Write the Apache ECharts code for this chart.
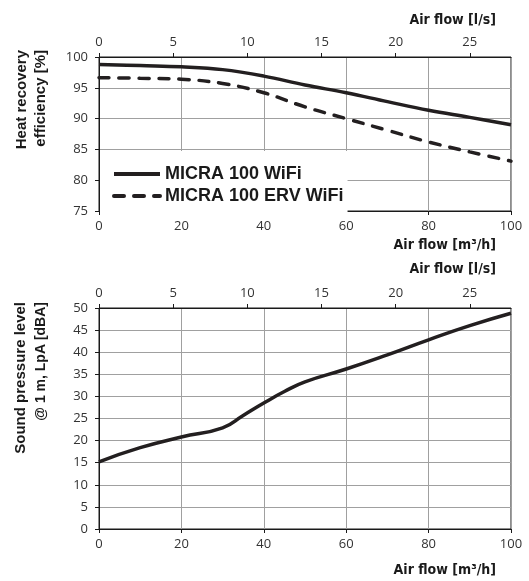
<!DOCTYPE html>
<html>
<head>
<meta charset="utf-8">
<script src="https://cdn.jsdelivr.net/npm/echarts@6/dist/echarts.min.js"></script>
<style>
html,body{margin:0;padding:0;background:#fff;}
#chart{width:529px;height:581px;}
</style>
</head>
<body>
<div id="chart"></div>
<script>
// ---- data ----
var flowEff = [0, 10, 20, 30, 40, 50, 60, 70, 80, 90, 100];
var effMicra = [98.8, 98.6, 98.4, 97.95, 96.9, 95.45, 94.2, 92.75, 91.35, 90.2, 89.0];
var effMicraErv = [96.65, 96.55, 96.4, 95.7, 94.2, 91.9, 90.0, 88.1, 86.2, 84.6, 83.1];
var flowSound = [0, 10, 20, 30, 35, 40, 45, 50, 60, 70, 80, 90, 100];
var soundLevel = [15.2, 18.4, 20.8, 22.9, 25.7, 28.5, 31.1, 33.3, 36.2, 39.4, 42.8, 46.0, 48.8];
var seriesNames = ['MICRA 100 WiFi', 'MICRA 100 ERV WiFi'];
var effTicks = {min: 75, max: 100, step: 5};
var soundTicks = {min: 0, max: 50, step: 5};
var m3hTicks = {min: 0, max: 100, step: 20};
var lsTicks = {min: 0, max: 100 / 3.6, step: 5};

function pairs(xs, ys) { return xs.map(function (x, i) { return [x, ys[i]]; }); }

var INK = '#231f20';
var AXIS = '#1a1a1a';
var GRIDC = '#a0a0a0';
var labelStyle = {fontFamily: '"Open Sans"', fontSize: 13, color: '#333'};

function m3hAxis(gridIndex) {
  return {
    type: 'value', gridIndex: gridIndex, position: 'bottom',
    min: m3hTicks.min, max: m3hTicks.max, interval: m3hTicks.step,
    axisLine: {show: true, onZero: false, lineStyle: {color: AXIS, width: 1}},
    axisTick: {show: true, inside: false, length: 4, lineStyle: {color: AXIS}},
    axisLabel: Object.assign({margin: 9}, labelStyle),
    splitLine: {show: true, lineStyle: {color: GRIDC, width: 1}}
  };
}
function lsAxis(gridIndex) {
  return {
    type: 'value', gridIndex: gridIndex, position: 'top',
    min: lsTicks.min, max: lsTicks.max, interval: lsTicks.step,
    axisLine: {show: true, onZero: false, lineStyle: {color: AXIS, width: 1}},
    axisTick: {show: true, inside: false, length: 4, lineStyle: {color: AXIS}},
    axisLabel: Object.assign({margin: 8, showMaxLabel: false,
      formatter: function (v) { return (Math.abs(v % 5) < 1e-6) ? String(v) : ''; }}, labelStyle),
    splitLine: {show: false}
  };
}
function yAxis(gridIndex, t) {
  return {
    type: 'value', gridIndex: gridIndex, min: t.min, max: t.max, interval: t.step,
    axisLine: {show: true, onZero: false, lineStyle: {color: AXIS, width: 1}},
    axisTick: {show: true, inside: false, length: 4, lineStyle: {color: AXIS}},
    axisLabel: Object.assign({margin: 11}, labelStyle),
    splitLine: {show: true, lineStyle: {color: GRIDC, width: 1}}
  };
}

var titleFont = {fontFamily: '"DejaVu Sans Condensed"', fontWeight: 'bold', fontSize: 14, fill: '#1a1a1a'};
function xTitle(text, y) {
  return {type: 'text', x: 496, y: y, style: Object.assign({text: text, align: 'right', verticalAlign: 'middle'}, titleFont)};
}

var chart = echarts.init(document.getElementById('chart'), null, {renderer: 'canvas'});
chart.setOption({
  animation: false,
  backgroundColor: '#fff',
  grid: [
    {left: 99, right: 18, top: 57, height: 154, show: true, borderColor: AXIS, borderWidth: 1, backgroundColor: 'transparent'},
    {left: 99, right: 18, top: 308, height: 221, show: true, borderColor: AXIS, borderWidth: 1, backgroundColor: 'transparent'}
  ],
  xAxis: [m3hAxis(0), lsAxis(0), m3hAxis(1), lsAxis(1)],
  yAxis: [yAxis(0, effTicks), yAxis(1, soundTicks)],
  legend: {
    show: true, orient: 'vertical', left: 100, top: 151,
    backgroundColor: '#fff',
    padding: [14, 4, 12, 12],
    itemWidth: 46, itemHeight: 14, itemGap: 4,
    itemStyle: {opacity: 0},
    lineStyle: {width: 4, color: INK},
    data: seriesNames,
    textStyle: {fontFamily: '"Liberation Sans"', fontWeight: 'bold', fontSize: 18, color: '#1a1a1a'}
  },
  graphic: [
    xTitle('Air flow [l/s]', 20),
    xTitle('Air flow [m³/h]', 245),
    xTitle('Air flow [l/s]', 269),
    xTitle('Air flow [m³/h]', 570),
    {type: 'text', x: 31, y: 50, rotation: Math.PI / 2,
     style: {text: 'Heat recovery\nefficiency [%]', align: 'right', verticalAlign: 'middle',
             fontFamily: '"Liberation Sans"', fontWeight: 'bold', fontSize: 15, lineHeight: 19, fill: '#1a1a1a'}},
    {type: 'text', x: 31, y: 302, rotation: Math.PI / 2,
     style: {text: '{a|Sound pressure level}\n{b|@ 1 m, LpA [dBA]}', align: 'right', verticalAlign: 'middle',
             rich: {
               a: {fontFamily: '"Liberation Sans"', fontWeight: 'bold', fontSize: 15, lineHeight: 20, fill: '#1a1a1a', align: 'right'},
               b: {fontFamily: '"Liberation Sans"', fontWeight: 'bold', fontSize: 14, lineHeight: 20, fill: '#1a1a1a', align: 'right'}
             }}}
  ],
  series: [
    {name: seriesNames[0], type: 'line', xAxisIndex: 0, yAxisIndex: 0, data: pairs(flowEff, effMicra),
     smooth: 0.4, symbol: 'none', lineStyle: {color: INK, width: 3.5}, itemStyle: {color: INK}},
    {name: seriesNames[1], type: 'line', xAxisIndex: 0, yAxisIndex: 0, data: pairs(flowEff, effMicraErv),
     smooth: 0.4, symbol: 'none', lineStyle: {color: INK, width: 3.5, type: [10, 10], cap: 'round'}, itemStyle: {color: INK}},
    {name: 'Sound', type: 'line', xAxisIndex: 2, yAxisIndex: 1, data: pairs(flowSound, soundLevel),
     smooth: 0.5, symbol: 'none', lineStyle: {color: INK, width: 3.5}, itemStyle: {color: INK}}
  ]
});
</script>
</body>
</html>
